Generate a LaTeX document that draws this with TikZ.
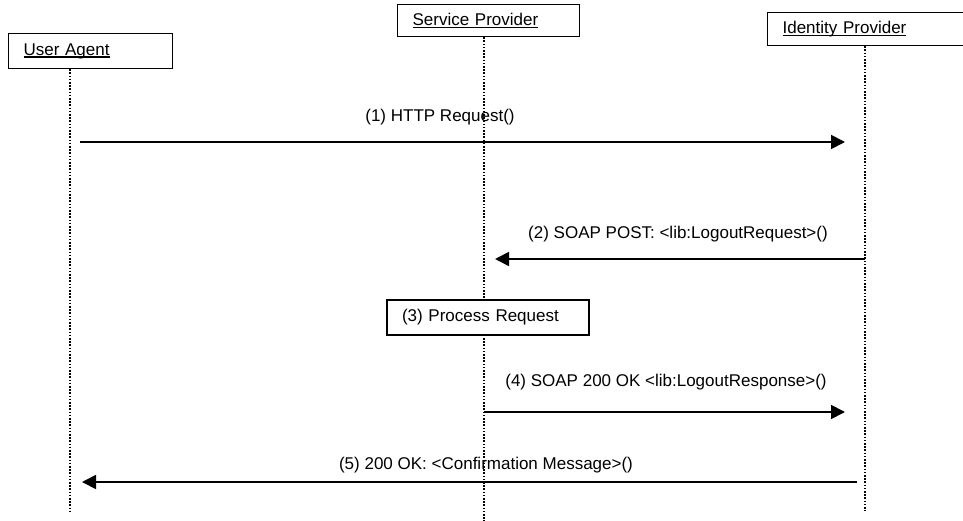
\documentclass[tikz,border=0pt]{standalone}
\usepackage{fontspec}
\setmainfont{Liberation Sans}
\usetikzlibrary{arrows.meta}
\newcommand{\ulbl}[1]{\setbox0\hbox{#1}\rlap{\rule[-2.6pt]{\wd0}{1.3pt}}\box0}

\begin{document}
\begin{tikzpicture}[x=1pt,y=-1pt]
	\tikzset{actor/.style={draw,line width=1.2pt,anchor=north west,align=left,inner xsep=15pt,inner ysep=0pt,font=\fontsize{17}{20}\selectfont}}
	\tikzset{life/.style={line width=1.5pt,dash pattern=on 1.6pt off 1.6pt}}
	\tikzset{msg/.style={line width=1.7pt,-{Triangle[length=14pt,width=14pt]}}}
	\tikzset{lbl/.style={font=\fontsize{17}{20}\selectfont,inner sep=0pt}}
	\useasboundingbox (0,0) rectangle (963,521);
	% participants
	\node[actor,text width=134pt,minimum height=35pt] (ua) at (8,33) {\ulbl{User Agent}};
	\node[actor,text width=152pt,minimum height=32pt] (sp) at (397,4) {\ulbl{Service Provider}};
	\node[actor,text width=178pt,minimum height=33pt] (idp) at (767,12) {\ulbl{Identity Provider}};
	% lifelines
	\coordinate (uaend) at (70,511);
	\coordinate (spend) at (484,521);
	\coordinate (idpend) at (865,511);
	\draw[life] (ua.south -| uaend) -- (uaend);
	\draw[life] (sp.south -| spend) -- (spend);
	\draw[life] (idp.south -| idpend) -- (idpend);
	% messages
	\coordinate (m1a) at (80,142);  \coordinate (m1b) at (845,142);
	\coordinate (m2a) at (865,259); \coordinate (m2b) at (495,259);
	\coordinate (m4a) at (484,412); \coordinate (m4b) at (845,412);
	\coordinate (m5a) at (857,482); \coordinate (m5b) at (82,482);
	\draw[msg] (m1a) -- (m1b);
	\draw[msg] (m2a) -- (m2b);
	\draw[msg] (m4a) -- (m4b);
	\draw[msg] (m5a) -- (m5b);
	\node[lbl] (l1) at (440,117) {(1) HTTP Request()};
	\node[lbl] (l2) at (678,234) {(2) SOAP POST: <lib:LogoutRequest>()};
	\node[actor,text width=172pt,minimum height=35pt,anchor=center,fill=white] (proc) at (488,317.5) {(3) Process Request};
	\node[lbl] (l4) at (666,382) {(4) SOAP 200 OK <lib:LogoutResponse>()};
	\node[lbl] (l5) at (486,465) {(5) 200 OK: <Confirmation Message>()};
\end{tikzpicture}
\end{document}
